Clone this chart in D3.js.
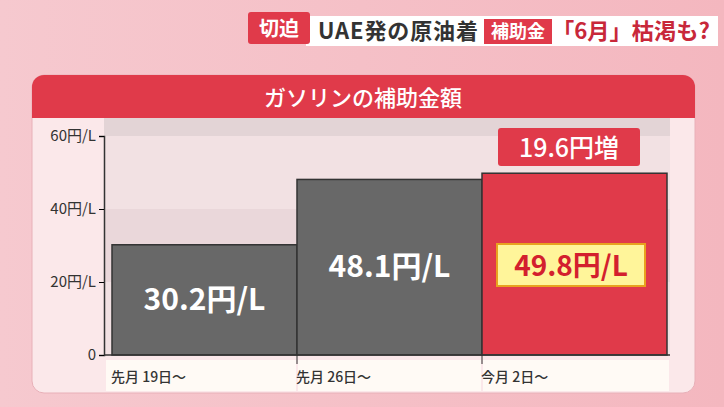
<!DOCTYPE html><html><head><meta charset="utf-8"><script src="https://cdn.jsdelivr.net/npm/d3@7"></script>
<style>body{margin:0;overflow:hidden}svg{display:block;font-family:"Noto Sans CJK JP",sans-serif}</style></head><body><svg width="724" height="407"></svg><script>
const categories=["先月 19日～","先月 26日～","今月 2日～"];
const values=[30.2,48.1,49.8];
const barLabels=["30.2円/L","48.1円/L","49.8円/L"];
const tickValues=[0,20,40,60];
const tickLabels=["0","20円/L","40円/L","60円/L"];
const increaseLabel="19.6円増";
const svg=d3.select("svg");
const g0=svg.append("defs").append("linearGradient").attr("id","bg").attr("x1",0).attr("x2",1);
g0.append("stop").attr("offset",0).attr("stop-color","#f6c9cf");g0.append("stop").attr("offset",1).attr("stop-color","#f4b7bf");
svg.append("rect").attr("width",724).attr("height",407).attr("fill","url(#bg)");
svg.append("rect").attr("x",306).attr("y",16).attr("width",412).attr("height",30).attr("fill","#fff");
svg.append("rect").attr("x",248).attr("y",12).attr("width",62).attr("height",32).attr("rx",3).attr("fill","#e03a4a");
svg.append("text").attr("x",279).attr("y",36).attr("text-anchor","middle").attr("fill","#fff").attr("font-size",20).attr("font-weight",700).text("切迫");
svg.append("text").attr("x",318).attr("y",39).attr("font-size",22).attr("font-weight",700).attr("fill","#333").attr("textLength",160).text("UAE発の原油着");
svg.append("rect").attr("x",484).attr("y",19).attr("width",68).attr("height",25).attr("fill","#e03a4a");
svg.append("text").attr("x",518).attr("y",38).attr("text-anchor","middle").attr("fill","#fff").attr("font-size",18).attr("font-weight",700).text("補助金");
svg.append("text").attr("x",552).attr("y",39).attr("font-size",22).attr("font-weight",700).attr("fill","#c8283a").attr("textLength",158).attr("lengthAdjust","spacingAndGlyphs").text("「6月」枯渇も?");
svg.append("rect").attr("x",32).attr("y",75).attr("width",663).attr("height",318).attr("rx",12).attr("fill","#fbe8ea").attr("stroke","#e8b0b8");
svg.append("path").attr("d","M44,75 H683 A12,12 0 0 1 695,87 V118 H32 V87 A12,12 0 0 1 44,75Z").attr("fill","#e03a4a");
svg.append("text").attr("x",363).attr("y",106).attr("text-anchor","middle").attr("fill","#fff").attr("font-size",22).attr("font-weight",500).text("ガソリンの補助金額");
const x=d3.scaleBand().domain(categories).range([112,667]).padding(0);
const y=d3.scaleLinear().domain([0,60]).range([355,136]);
svg.append("rect").attr("x",104).attr("y",118).attr("width",566).attr("height",237).attr("fill","#f2e1e3");
svg.append("rect").attr("x",104).attr("y",118).attr("width",566).attr("height",y(60)-118).attr("fill","#e3d4d6");
svg.append("rect").attr("x",104).attr("y",y(40)).attr("width",566).attr("height",y(20)-y(40)).attr("fill","#ead7da");
svg.selectAll(".bar").data(values).join("rect").attr("x",(d,i)=>x(categories[i])).attr("y",d=>y(d)).attr("width",x.bandwidth()).attr("height",d=>y(0)-y(d))
 .attr("fill",(d,i)=>i==2?"#e03a4a":"#686868").attr("stroke","#333").attr("stroke-width",1.5);
const ax=svg.append("g").attr("transform","translate(104,0)").call(d3.axisLeft(y).tickValues(tickValues).tickFormat((d,i)=>tickLabels[i]).tickSize(5));
ax.select(".domain").attr("stroke","#333").attr("stroke-width",1.5);
ax.selectAll("text").attr("font-size",15).attr("fill","#333").attr("font-family","Noto Sans CJK JP");
svg.append("line").attr("x1",104).attr("x2",670).attr("y1",355).attr("y2",355).attr("stroke","#333").attr("stroke-width",1.5);
categories.forEach((c,i)=>{
 svg.append("rect").attr("x",x(c)-7*(i==0)+1).attr("y",360).attr("width",x.bandwidth()-2+7*(i==0)+(i==2?3:0)).attr("height",31).attr("fill","#fffaf5");
 svg.append("text").attr("x",x(c)-1).attr("y",382).attr("font-size",14).attr("fill","#333").attr("font-weight",500).text(c);
 if(i>0)svg.append("line").attr("x1",x(c)).attr("x2",x(c)).attr("y1",355).attr("y2",364).attr("stroke","#333");
});
svg.append("text").attr("x",x(categories[0])+x.bandwidth()/2).attr("y",310).attr("text-anchor","middle").attr("fill","#fff").attr("font-size",30).attr("font-weight",700).text(barLabels[0]);
svg.append("text").attr("x",x(categories[1])+x.bandwidth()/2).attr("y",277).attr("text-anchor","middle").attr("fill","#fff").attr("font-size",30).attr("font-weight",700).text(barLabels[1]);
svg.append("rect").attr("x",497).attr("y",244).attr("width",148).attr("height",42).attr("fill","#fff59a").attr("stroke","#e8a21e").attr("stroke-width",2);
svg.append("text").attr("x",571).attr("y",276).attr("text-anchor","middle").attr("fill","#d3202e").attr("font-size",28).attr("font-weight",700).text(barLabels[2]);
svg.append("rect").attr("x",498).attr("y",128).attr("width",142).attr("height",38).attr("rx",3).attr("fill","#e03a4a");
svg.append("text").attr("x",569).attr("y",157).attr("text-anchor","middle").attr("fill","#fff").attr("font-size",25).attr("font-weight",500).text(increaseLabel);
</script></body></html>
